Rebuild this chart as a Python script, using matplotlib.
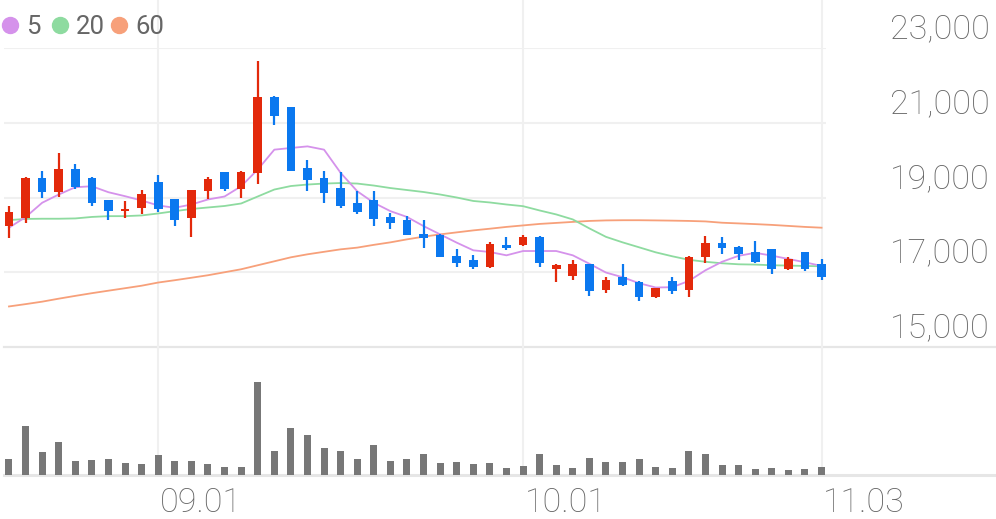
import matplotlib.pyplot as plt
import numpy as np
from matplotlib.lines import Line2D

# 일봉 데이터 (시가, 고가, 저가, 종가)
opens = [18250, 18440, 19530, 19150, 19770, 19530, 18940, 18640, 18710, 19410,
         18950, 18440, 19170, 19680, 19230, 19660, 21700, 21410, 19790, 19530,
         19260, 18840, 18930, 18480, 18410, 18030, 18010, 17440, 17320, 17150,
         17730, 17720, 17940, 17100, 16900, 17210, 16530, 16860, 16740, 16330,
         16770, 16530, 17420, 17770, 17680, 17540, 17610, 17080, 17530, 17210]
highs = [18770, 19550, 19700, 20190, 19900, 19550, 18940, 18900, 19210, 19610,
         18960, 19210, 19540, 19690, 19720, 22640, 21720, 21420, 20010, 19720,
         19680, 19170, 19170, 18590, 18500, 18400, 18020, 17610, 17450, 17810,
         17930, 17990, 17960, 17230, 17320, 17230, 16860, 17230, 16760, 16580,
         16860, 17430, 17970, 17950, 17690, 17840, 17630, 17420, 17540, 17350]
lows = [17910, 18330, 18990, 19020, 19240, 18770, 18390, 18460, 18550, 18610,
        18250, 17930, 18950, 19170, 18990, 19370, 20950, 19700, 19170, 18860,
        18730, 18570, 18250, 18170, 18000, 17660, 17400, 17140, 17080, 17110,
        17590, 17700, 17130, 16730, 16790, 16370, 16440, 16620, 16240, 16300,
        16410, 16350, 17260, 17480, 17320, 17260, 16950, 17060, 17040, 16790]
closes = [18610, 19530, 19150, 19770, 19290, 18860, 18630, 18700, 19100, 18700,
          18410, 19190, 19500, 19230, 19680, 21700, 21190, 19720, 19480, 19110,
          18770, 18610, 18430, 18330, 18010, 17910, 17420, 17260, 17150, 17750,
          17640, 17950, 17260, 17200, 17230, 16500, 16800, 16660, 16330, 16570,
          16490, 17420, 17770, 17650, 17480, 17280, 17080, 17350, 17080, 16860]

# 거래량 (천주)
volumes = [160, 493, 233, 333, 140, 147, 160, 123, 113, 203,
           140, 140, 110, 83, 83, 933, 240, 467, 400, 270,
           240, 160, 303, 143, 163, 213, 120, 133, 110, 120,
           70, 87, 213, 100, 70, 173, 133, 130, 163, 80,
           73, 240, 213, 103, 100, 63, 73, 53, 63, 77]

# 이동평균선
ma5 = [18192, 18475, 18859, 19080, 19275, 19301, 19141, 19035, 18920, 18787,
       18725, 18813, 18947, 19027, 19301, 19747, 20280, 20325, 20368, 20280,
       19659, 19168, 18859, 18635, 18480, 18235, 18013, 17792, 17587, 17541,
       17453, 17568, 17568, 17568, 17453, 17227, 16992, 16867, 16707, 16592,
       16600, 16768, 17053, 17280, 17440, 17520, 17445, 17355, 17267, 17168]
ma20 = [18395, 18427, 18432, 18432, 18440, 18480, 18501, 18501, 18520, 18573,
        18635, 18693, 18733, 18773, 18840, 19027, 19213, 19307, 19347, 19373,
        19387, 19373, 19320, 19253, 19200, 19147, 19080, 19000, 18907, 18867,
        18813, 18768, 18653, 18547, 18413, 18173, 17947, 17800, 17667, 17533,
        17427, 17333, 17280, 17240, 17213, 17205, 17187, 17179, 17168, 17160]
ma60 = [16085, 16147, 16213, 16293, 16368, 16440, 16507, 16573, 16640, 16725,
        16787, 16853, 16920, 17000, 17080, 17187, 17293, 17400, 17480, 17547,
        17613, 17659, 17733, 17800, 17880, 17952, 18013, 18067, 18120, 18165,
        18213, 18253, 18293, 18320, 18347, 18373, 18387, 18392, 18392, 18387,
        18381, 18373, 18360, 18325, 18307, 18288, 18267, 18240, 18213, 18192]

date_ticks = [9, 31, 49]
date_labels = ['09.01', '10.01', '11.03']
price_ticks = [23000, 21000, 19000, 17000, 15000]

UP = '#e3290b'
DOWN = '#0b78ef'
MA_COLORS = ['#d592eb', '#8edba0', '#f7a07a']
TEXT = '#666666'
GRID = '#f0f0f0'
LINE = '#e6e6e6'

plt.rcParams['font.family'] = ['Roboto', 'DejaVu Sans']

W, H = 996, 519
fig = plt.figure(figsize=(W / 100, H / 100), dpi=100)

left, right = 4, 825.7
ax = fig.add_axes([left / W, (H - 347) / H, (right - left) / W, (347 - 48) / H])
axv = fig.add_axes([left / W, (H - 475) / H, (right - left) / W, 128 / H])

x = np.arange(len(closes))
o = np.array(opens)
c = np.array(closes)
colors = [UP if cc >= oo else DOWN for oo, cc in zip(o, c)]

for a in (ax, axv):
    a.set_xlim(-0.3, 49.25)
    for s in a.spines.values():
        s.set_visible(False)
    a.set_xticks([])
    a.set_yticks([])
    a.patch.set_alpha(0)

ax.set_ylim(15000, 23000)
axv.set_ylim(0, 1280)

# 격자선
for v in price_ticks[:-1]:
    ax.axhline(v, color=GRID, lw=1.5, zorder=0)
ext = (W - left) / (right - left)
ax.axhline(15000, xmin=0, xmax=ext, color=LINE, lw=1.6, clip_on=False, zorder=0)
axv.axhline(0, xmin=0, xmax=ext, color=LINE, lw=2.2, clip_on=False, zorder=0)
for t in date_ticks:
    ax.axvline(t, ymin=0, ymax=347 / 299, color=GRID, lw=1.5, clip_on=False, zorder=0)
    axv.axvline(t, color=GRID, lw=1.5, zorder=0)

# 이동평균선
for ma, col in zip([ma60, ma20, ma5], MA_COLORS[::-1]):
    ax.plot(x, ma, color=col, lw=1.3, zorder=2)

# 캔들
ax.vlines(x, lows, highs, colors=colors, lw=1.6, zorder=3, clip_on=False)
ax.bar(x, np.abs(c - o), bottom=np.minimum(o, c), width=0.52, color=colors,
       zorder=4, clip_on=False)

# 거래량
axv.bar(x, volumes, width=0.42, color='#777777', zorder=2)

# 가격 라벨
for v in price_ticks:
    ax.annotate(f'{v:,}', xy=(1, v), xycoords=('axes fraction', 'data'),
                xytext=((990 - right) * 0.72, 7), textcoords='offset points',
                ha='right', va='baseline', fontsize=24.5, color=TEXT,
                fontweight='light')

# 날짜 라벨
for t, lab in zip(date_ticks, date_labels):
    axv.annotate(lab, xy=(t, 0), xycoords=('data', 'axes fraction'),
                 xytext=(1, -26.5), textcoords='offset points',
                 ha='left', va='baseline', fontsize=24.5, color=TEXT,
                 fontweight='light')

# 범례
for lab, col, cx, tx in zip(['5', '20', '60'], MA_COLORS, [10, 60, 119], [26, 76, 135]):
    fig.add_artist(Line2D([cx / W], [1 - 25 / H], marker='o', markersize=11.5,
                          color=col, transform=fig.transFigure))
    fig.text(tx / W, 1 - 33.5 / H, lab, fontsize=18.5, color=TEXT,
             ha='left', va='baseline')

fig.savefig('out.png', dpi=100)
